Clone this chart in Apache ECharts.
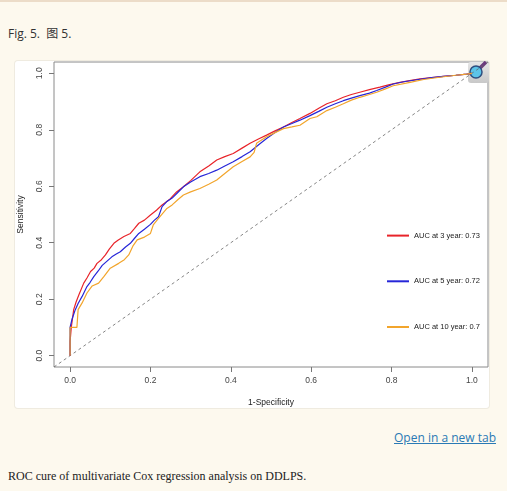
<!DOCTYPE html>
<html>
<head>
<meta charset="utf-8">
<script src="https://cdn.jsdelivr.net/npm/echarts@6/dist/echarts.min.js"></script>
<style>
html, body { margin: 0; padding: 0; background: #fdf9ee; width: 507px; height: 491px; overflow: hidden; }
#topline { position: absolute; left: 0; top: 0; width: 507px; height: 2px; background: #ecdcc8; }
#figlabel { position: absolute; left: 8px; top: 24px; font-size: 12px; font-family: 'Open Sans', 'Noto Sans CJK SC', sans-serif; color: #333; }
#panel { position: absolute; left: 15px; top: 61px; width: 474px; height: 347px; background: #fff; border-radius: 3px; box-shadow: 0 0 0 1px #efebe0; }
#main { width: 474px; height: 347px; }
#open { position: absolute; right: 11px; top: 429px; font-size: 12px; font-family: 'Open Sans', sans-serif; color: #2a7ab5; text-decoration: underline; }
#caption { position: absolute; left: 8px; top: 469px; font-size: 12px; font-family: 'Liberation Serif', serif; color: #222; }
</style>
</head>
<body>
<div id="topline"></div>
<div id="figlabel">Fig. 5.&nbsp; 图 5.</div>
<div id="panel"><div id="main"></div></div>
<div id="open">Open in a new tab</div>
<div id="caption">ROC cure of multivariate Cox regression analysis on DDLPS.</div>
<script>
// 图例名称
var seriesNames = ['AUC at 3 year: 0.73', 'AUC at 5 year: 0.72', 'AUC at 10 year: 0.7'];
var tickValues = [0, 0.2, 0.4, 0.6, 0.8, 1.0];

// ROC 曲线点 [1-Specificity, Sensitivity]
var roc3 = [[0,0],[0,0.05],[0.003,0.10],[0.009,0.163],[0.015,0.19],[0.022,0.216],[0.034,0.257],[0.042,0.275],[0.051,0.298],[0.06,0.31],[0.067,0.327],[0.078,0.34],[0.088,0.357],[0.098,0.378],[0.109,0.398],[0.12,0.41],[0.134,0.422],[0.15,0.433],[0.16,0.45],[0.171,0.469],[0.185,0.48],[0.2,0.498],[0.215,0.515],[0.229,0.534],[0.249,0.555],[0.265,0.58],[0.282,0.598],[0.3,0.62],[0.323,0.651],[0.345,0.672],[0.365,0.693],[0.385,0.705],[0.406,0.716],[0.428,0.735],[0.448,0.752],[0.47,0.768],[0.489,0.781],[0.51,0.796],[0.531,0.81],[0.552,0.826],[0.572,0.84],[0.597,0.858],[0.62,0.877],[0.639,0.892],[0.66,0.903],[0.68,0.915],[0.70,0.925],[0.721,0.933],[0.745,0.942],[0.771,0.951],[0.795,0.96],[0.821,0.968],[0.845,0.974],[0.871,0.98],[0.9,0.985],[0.929,0.989],[0.96,0.993],[0.987,0.997],[1,1]];
var roc5 = [[0,0],[0,0.10],[0.005,0.13],[0.013,0.163],[0.02,0.185],[0.03,0.21],[0.042,0.245],[0.05,0.26],[0.059,0.28],[0.07,0.30],[0.08,0.32],[0.092,0.335],[0.104,0.35],[0.115,0.36],[0.125,0.368],[0.138,0.385],[0.15,0.398],[0.16,0.415],[0.171,0.433],[0.185,0.448],[0.2,0.465],[0.21,0.48],[0.22,0.492],[0.229,0.528],[0.24,0.545],[0.254,0.558],[0.268,0.578],[0.282,0.598],[0.3,0.615],[0.323,0.634],[0.345,0.645],[0.365,0.657],[0.385,0.672],[0.406,0.687],[0.428,0.705],[0.448,0.722],[0.47,0.748],[0.489,0.769],[0.51,0.79],[0.531,0.81],[0.552,0.822],[0.572,0.834],[0.597,0.85],[0.62,0.866],[0.639,0.88],[0.66,0.892],[0.68,0.903],[0.70,0.912],[0.721,0.921],[0.745,0.93],[0.763,0.939],[0.785,0.951],[0.804,0.962],[0.83,0.97],[0.871,0.979],[0.9,0.985],[0.929,0.989],[0.96,0.993],[0.987,0.997],[1,1]];
var roc10 = [[0,0],[0,0.10],[0.017,0.10],[0.02,0.163],[0.03,0.187],[0.042,0.222],[0.055,0.247],[0.071,0.257],[0.084,0.28],[0.10,0.31],[0.121,0.327],[0.135,0.34],[0.146,0.357],[0.157,0.39],[0.167,0.41],[0.185,0.42],[0.2,0.433],[0.207,0.463],[0.22,0.486],[0.24,0.52],[0.254,0.534],[0.268,0.552],[0.282,0.569],[0.3,0.58],[0.323,0.592],[0.345,0.607],[0.365,0.622],[0.385,0.645],[0.406,0.669],[0.428,0.688],[0.448,0.704],[0.458,0.72],[0.464,0.752],[0.489,0.775],[0.51,0.79],[0.531,0.804],[0.552,0.81],[0.572,0.816],[0.597,0.84],[0.614,0.846],[0.639,0.868],[0.66,0.88],[0.68,0.892],[0.70,0.905],[0.721,0.915],[0.745,0.925],[0.763,0.933],[0.785,0.945],[0.804,0.956],[0.846,0.968],[0.88,0.978],[0.92,0.986],[0.96,0.993],[0.987,0.997],[1,1]];
// 对角参考线（贯穿整个绘图区）
var refLine = [[-0.04,-0.04],[1.04,1.04]];

var myChart = echarts.init(document.getElementById('main'));

function rocSeries(name, data, color) {
	return {
		name: name,
		type: 'line',
		data: data,
		symbol: 'none',
		silent: true,
		lineStyle: { color: color, width: 1.2 },
		itemStyle: { color: color }
	};
}

var axisFont = { fontSize: 8.5, color: '#444', fontFamily: 'Liberation Sans, Arial' };

option = {
	animation: false,
	grid: {
		left: 39, right: 1, top: 1, bottom: 41,
		containLabel: false,
		outerBoundsMode: 'none',
		show: true,
		borderColor: '#8a8a8a',
		borderWidth: 1,
		backgroundColor: '#fff'
	},
	xAxis: {
		type: 'value',
		min: -0.04, max: 1.04,
		name: '1-Specificity',
		nameLocation: 'middle',
		nameGap: 31,
		nameMoveOverlap: false,
		nameTextStyle: { fontSize: 8.5, color: '#222', fontFamily: 'Liberation Sans, Arial' },
		splitLine: { show: false },
		axisLine: { show: false, onZero: false },
		axisTick: { show: true, length: 5, customValues: tickValues, lineStyle: { color: '#777' } },
		axisLabel: Object.assign({ margin: 9, customValues: tickValues, formatter: function (v) { return v.toFixed(1); } }, axisFont)
	},
	yAxis: {
		type: 'value',
		min: -0.04, max: 1.04,
		name: 'Sensitivity',
		nameLocation: 'middle',
		nameGap: 29,
		nameMoveOverlap: false,
		nameTextStyle: { fontSize: 8.5, color: '#222', fontFamily: 'Liberation Sans, Arial' },
		splitLine: { show: false },
		axisLine: { show: false, onZero: false },
		axisTick: { show: true, length: 5, customValues: tickValues, lineStyle: { color: '#777' } },
		axisLabel: Object.assign({ margin: 10, rotate: 90, customValues: tickValues, formatter: function (v) { return v.toFixed(1); } }, axisFont)
	},
	legend: {
		orient: 'vertical',
		left: 366,
		top: 164,
		itemWidth: 22,
		itemHeight: 14,
		itemGap: 34.5,
		itemStyle: { opacity: 0 },
		data: seriesNames,
		textStyle: { fontSize: 7.5, color: '#222', fontFamily: 'Liberation Sans, Arial' }
	},
	series: [
		{
			name: 'ref',
			type: 'line',
			data: refLine,
			symbol: 'none',
			silent: true,
			lineStyle: { color: '#666', width: 0.8, type: [3, 3] }
		},
		rocSeries(seriesNames[0], roc3, '#e8242a'),
		rocSeries(seriesNames[1], roc5, '#2626d8'),
		rocSeries(seriesNames[2], roc10, '#f2a52c')
	],
	graphic: [
		{ type: 'rect', left: 453, top: 1, shape: { width: 21, height: 21, r: 3 },
		  style: { fill: new echarts.graphic.LinearGradient(0, 0, 0, 1, [{ offset: 0, color: '#e6e6e6' }, { offset: 1, color: '#c8c8c8' }]) } },
		{ type: 'line', shape: { x1: 461, y1: 11, x2: 471, y2: 1 }, style: { stroke: '#6b3a7d', lineWidth: 3.5 } },
		{ type: 'circle', shape: { cx: 461, cy: 11, r: 6 }, style: { fill: '#5cc4e8', stroke: '#2f4f7f', lineWidth: 1.5 } }
	]
};

myChart.setOption(option);
</script>
</body>
</html>
